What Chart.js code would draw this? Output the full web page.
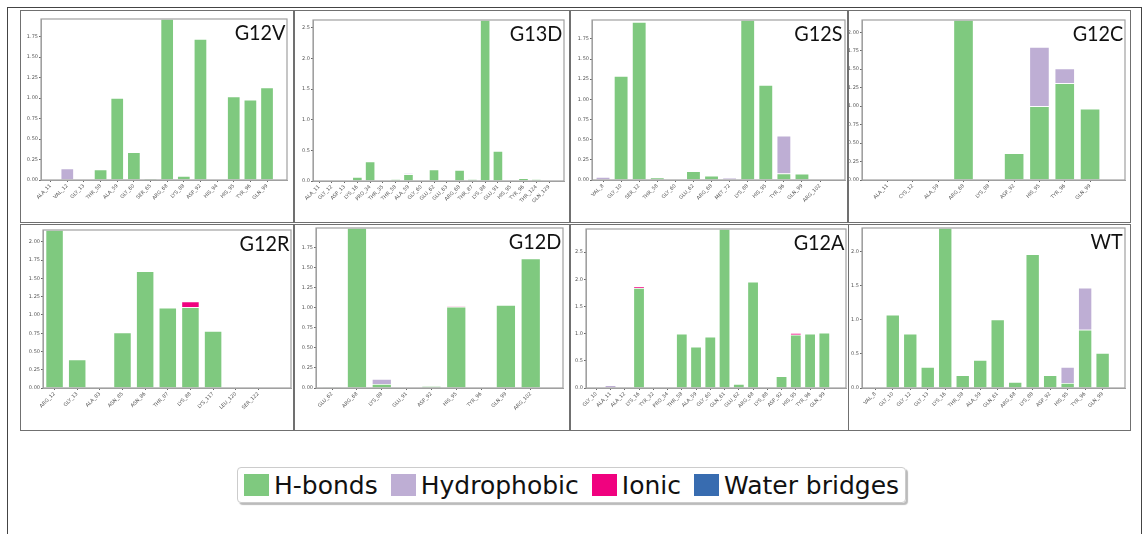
<!DOCTYPE html>
<html>
<head>
<meta charset="utf-8">
<script src="https://cdn.jsdelivr.net/npm/chart.js@4.4.1/dist/chart.umd.min.js"></script>
<style>
  body { margin: 0; background: #fff; width: 1147px; height: 534px; overflow: hidden; position: relative; font-family: "DejaVu Sans", sans-serif; }
  .outer { position: absolute; left: 7px; top: 7px; width: 1135px; height: 560px; border: 1.5px solid #444; border-bottom: none; box-sizing: border-box; }
  .panel { position: absolute; border: 1.6px solid #707070; box-sizing: border-box; pointer-events: none; }
  canvas { position: absolute; }
  .title { position: absolute; font-family: Lato, sans-serif; font-size: 22px; line-height: 1; color: #111; transform: scaleX(0.9); transform-origin: right top; white-space: nowrap; }
  #legend { position: absolute; left: 237px; top: 467px; height: 36px; display: flex; align-items: center; gap: 13px; padding: 0 6px; border: 1px solid #ccc; border-radius: 4px; box-shadow: 2px 2px 1px #bbb; box-sizing: border-box; font-size: 25px; color: #111; }
  #legend .item { display: flex; align-items: center; gap: 5px; }
  #legend .sw { width: 25px; height: 22px; }
</style>
</head>
<body>
<div class="outer"></div>
<div id="legend"></div>
<script>
// interaction fractions per residue, one set of arrays per KRAS variant

const g12vLabels = ["ALA_11", "VAL_12", "GLY_13", "THR_58", "ALA_59", "GLY_60", "SER_65", "ARG_68", "LYS_88", "ASP_92", "HIS_94", "HIS_95", "TYR_96", "GLN_99"];
const g12vHbond  = [0, 0, 0, 0.13, 1.0, 0.34, 0.02, 1.965, 0.05, 1.72, 0, 1.02, 0.98, 1.13];
const g12vHydro  = [0, 0.14, 0, 0, 0, 0, 0, 0, 0, 0, 0, 0, 0, 0];
const g12vIonic  = [0, 0, 0, 0, 0, 0, 0, 0, 0, 0, 0, 0, 0, 0];

const g13dLabels = ["ALA_11", "GLY_12", "ASP_13", "LYS_16", "PRO_34", "THR_35", "THR_58", "ALA_59", "GLY_60", "GLU_62", "GLU_63", "ARG_68", "THR_87", "LYS_88", "GLU_91", "HIS_95", "TYR_96", "THR_124", "GLN_129"];
const g13dHbond  = [0, 0, 0.005, 0.065, 0.32, 0, 0.03, 0.11, 0, 0.19, 0, 0.18, 0.03, 2.625, 0.49, 0, 0.045, 0.03, 0];
const g13dHydro  = [0, 0, 0, 0, 0, 0, 0, 0.015, 0, 0, 0, 0, 0, 0, 0, 0, 0, 0, 0];
const g13dIonic  = [0, 0, 0, 0, 0, 0, 0, 0, 0, 0, 0, 0, 0, 0, 0, 0, 0, 0, 0];

const g12sLabels = ["VAL_8", "GLY_10", "SER_12", "THR_58", "GLY_60", "GLU_62", "ARG_68", "MET_72", "LYS_88", "HIS_95", "TYR_96", "GLN_99", "ARG_102"];
const g12sHbond  = [0, 1.29, 1.96, 0.033, 0.005, 0.11, 0.053, 0, 1.984, 1.18, 0.08, 0.077, 0.005];
const g12sHydro  = [0.037, 0, 0, 0, 0, 0, 0, 0.03, 0, 0, 0.47, 0, 0];
const g12sIonic  = [0, 0, 0, 0, 0, 0, 0, 0, 0, 0, 0, 0, 0];

const g12cLabels = ["ALA_11", "CYS_12", "ALA_59", "ARG_68", "LYS_88", "ASP_92", "HIS_95", "TYR_96", "GLN_99"];
const g12cHbond  = [0, 0, 0, 2.166, 0, 0.364, 1.0, 1.31, 0.966];
const g12cHydro  = [0, 0, 0, 0, 0, 0, 0.8, 0.2, 0];
const g12cIonic  = [0, 0, 0, 0, 0, 0, 0, 0, 0];

const g12rLabels = ["ARG_12", "GLY_13", "ALA_83", "ASN_85", "ASN_86", "THR_87", "LYS_88", "LYS_117", "LEU_120", "SER_122"];
const g12rHbond  = [2.163, 0.39, 0, 0.76, 1.6, 1.1, 1.107, 0.78, 0, 0.006];
const g12rHydro  = [0, 0, 0, 0, 0, 0, 0, 0, 0.006, 0];
const g12rIonic  = [0, 0, 0, 0, 0, 0, 0.077, 0, 0, 0];

const g12dLabels = ["GLU_62", "ARG_68", "LYS_88", "GLU_91", "ASP_92", "HIS_95", "TYR_96", "GLN_99", "ARG_102"];
const g12dHbond  = [0.01, 1.995, 0.05, 0.005, 0.025, 1.014, 0.005, 1.035, 1.615];
const g12dHydro  = [0, 0, 0.063, 0, 0, 0, 0, 0, 0];
const g12dIonic  = [0, 0, 0, 0, 0, 0.005, 0, 0, 0];

const g12aLabels = ["GLY_10", "ALA_11", "ALA_12", "LYS_16", "TYR_32", "PRO_34", "THR_58", "ALA_59", "GLY_60", "GLN_61", "GLU_62", "ARG_68", "LYS_88", "ASP_92", "HIS_95", "TYR_96", "GLN_99"];
const g12aHbond  = [0, 0, 0.012, 1.84, 0, 0.012, 1.0, 0.76, 0.945, 2.923, 0.074, 1.955, 0, 0.215, 0.98, 1.0, 1.017];
const g12aHydro  = [0, 0.05, 0, 0, 0, 0, 0, 0, 0, 0, 0, 0, 0, 0, 0, 0, 0];
const g12aIonic  = [0, 0, 0, 0.02, 0, 0, 0, 0, 0, 0, 0, 0, 0, 0, 0.03, 0, 0];

const wtLabels = ["VAL_8", "GLY_10", "GLY_12", "GLY_13", "LYS_16", "THR_58", "ALA_59", "GLN_61", "ARG_68", "LYS_88", "ASP_92", "HIS_95", "TYR_96", "GLN_99"];
const wtHbond  = [0, 1.074, 0.794, 0.309, 2.343, 0.186, 0.41, 1.005, 0.088, 1.96, 0.186, 0.074, 0.853, 0.515];
const wtHydro  = [0, 0, 0, 0, 0, 0, 0, 0, 0, 0, 0, 0.235, 0.617, 0];
const wtIonic  = [0, 0, 0, 0, 0, 0, 0, 0, 0, 0, 0, 0, 0, 0];

const legendNames = ["H-bonds", "Hydrophobic", "Ionic", "Water bridges"];
const legendColors = ["#7fc97f", "#beaed4", "#f0027f", "#386cb0"];

// layout: panel box [x, y, w, h], plot area [left, top, right, bottom], x range, y tick step
const panels = [
  { name: "G12V", labels: g12vLabels, hb: g12vHbond, hy: g12vHydro, io: g12vIonic, box: [20, 10, 274, 213], plot: [41, 19, 287, 180], xr: [-0.58, 14.2], step: 0.25 },
  { name: "G13D", labels: g13dLabels, hb: g13dHbond, hy: g13dHydro, io: g13dIonic, box: [294, 10, 276, 213], plot: [313, 20, 564, 181], xr: [-0.47, 19.17], step: 0.5 },
  { name: "G12S", labels: g12sLabels, hb: g12sHbond, hy: g12sHydro, io: g12sIonic, box: [570, 10, 278, 213], plot: [592, 20, 845, 180], xr: [-0.61, 13.38], step: 0.25 },
  { name: "G12C", labels: g12cLabels, hb: g12cHbond, hy: g12cHydro, io: g12cIonic, box: [848, 10, 283, 213], plot: [862, 20, 1125, 180], xr: [-1.01, 9.38], step: 0.25 },
  { name: "G12R", labels: g12rLabels, hb: g12rHbond, hy: g12rHydro, io: g12rIonic, box: [20, 224, 274, 207], plot: [43, 230, 291, 388], xr: [-0.51, 10.44], step: 0.25 },
  { name: "G12D", labels: g12dLabels, hb: g12dHbond, hy: g12dHydro, io: g12dIonic, box: [294, 224, 276, 207], plot: [316, 228, 563, 388], xr: [-0.65, 9.3], step: 0.25 },
  { name: "G12A", labels: g12aLabels, hb: g12aHbond, hy: g12aHydro, io: g12aIonic, box: [570, 224, 279, 207], plot: [586, 229, 846, 388], xr: [-0.72, 17.52], step: 0.5 },
  { name: "WT",   labels: wtLabels,   hb: wtHbond,   hy: wtHydro,   io: wtIonic,   box: [848, 224, 283, 207], plot: [862, 228, 1125, 388], xr: [-0.76, 14.28], step: 0.5 }
];

const tickFont = { size: 5, family: "DejaVu Sans" };

// matplotlib style box around the axes
const framePlugin = {
  id: "frame",
  afterDraw(chart) {
    const { ctx, chartArea: a } = chart;
    ctx.save();
    ctx.strokeStyle = "#a0a0a0";
    ctx.lineWidth = 1.2;
    ctx.strokeRect(a.left, a.top, a.right - a.left, a.bottom - a.top);
    ctx.restore();
  }
};

function makeSet(label, values, color) {
  return {
    label: label,
    data: values.map((v, i) => ({ x: i, y: v })),
    backgroundColor: color,
    borderColor: "#ffffff",
    borderWidth: 0.8,
    barPercentage: 0.8,
    categoryPercentage: 1
  };
}

function buildPanel(p) {
  const [bx, by, bw, bh] = p.box;
  const [pl, pt, pr, pb] = p.plot;

  const canvas = document.createElement("canvas");
  canvas.width = bw;
  canvas.height = bh;
  canvas.style.left = bx + "px";
  canvas.style.top = by + "px";
  canvas.style.width = bw + "px";
  canvas.style.height = bh + "px";
  document.body.appendChild(canvas);

  const top = Math.max(...p.hb.map((v, i) => v + p.hy[i] + p.io[i]));
  const decimals = p.step < 0.5 ? 2 : 1;

  new Chart(canvas, {
    type: "bar",
    data: {
      datasets: [
        makeSet(legendNames[0], p.hb, legendColors[0]),
        makeSet(legendNames[1], p.hy, legendColors[1]),
        makeSet(legendNames[2], p.io, legendColors[2])
      ]
    },
    options: {
      responsive: false,
      animation: false,
      devicePixelRatio: 1,
      layout: { padding: { left: 0, top: pt - by, right: bx + bw - pr, bottom: 0 } },
      plugins: { legend: { display: false }, tooltip: { enabled: false } },
      scales: {
        x: {
          type: "linear",
          stacked: true,
          offset: false,
          min: p.xr[0],
          max: p.xr[1],
          afterBuildTicks: (ax) => { ax.ticks = p.labels.map((_, i) => ({ value: i })); },
          afterFit: (ax) => { ax.height = by + bh - pb; },
          ticks: {
            autoSkip: false, minRotation: 45, maxRotation: 45,
            font: tickFont, color: "#555", padding: 1,
            callback: (v, i) => p.labels[i]
          },
          grid: { drawOnChartArea: false, tickLength: 2, color: "#666", offset: false },
          border: { color: "#a0a0a0" }
        },
        y: {
          stacked: true,
          min: 0,
          max: top,
          afterFit: (ax) => { ax.width = pl - bx; },
          ticks: {
            stepSize: p.step, includeBounds: false,
            font: tickFont, color: "#555", padding: 1,
            callback: (v) => Number(v).toFixed(decimals)
          },
          grid: { drawOnChartArea: false, tickLength: 2, color: "#666" },
          border: { color: "#a0a0a0" }
        }
      }
    },
    plugins: [framePlugin]
  });

  const box = document.createElement("div");
  box.className = "panel";
  box.style.left = bx + "px";
  box.style.top = by + "px";
  box.style.width = bw + "px";
  box.style.height = bh + "px";
  document.body.appendChild(box);

  const title = document.createElement("div");
  title.className = "title";
  title.textContent = p.name;
  title.style.right = (1147 - (pr - 2)) + "px";
  title.style.top = (pt + 1.5) + "px";
  document.body.appendChild(title);
}

function buildLegend() {
  const legend = document.getElementById("legend");
  legendNames.forEach((name, i) => {
    const item = document.createElement("div");
    item.className = "item";
    const sw = document.createElement("div");
    sw.className = "sw";
    sw.style.background = legendColors[i];
    const txt = document.createElement("span");
    txt.textContent = name;
    item.appendChild(sw);
    item.appendChild(txt);
    legend.appendChild(item);
  });
}

panels.forEach(buildPanel);
buildLegend();
</script>
</body>
</html>
